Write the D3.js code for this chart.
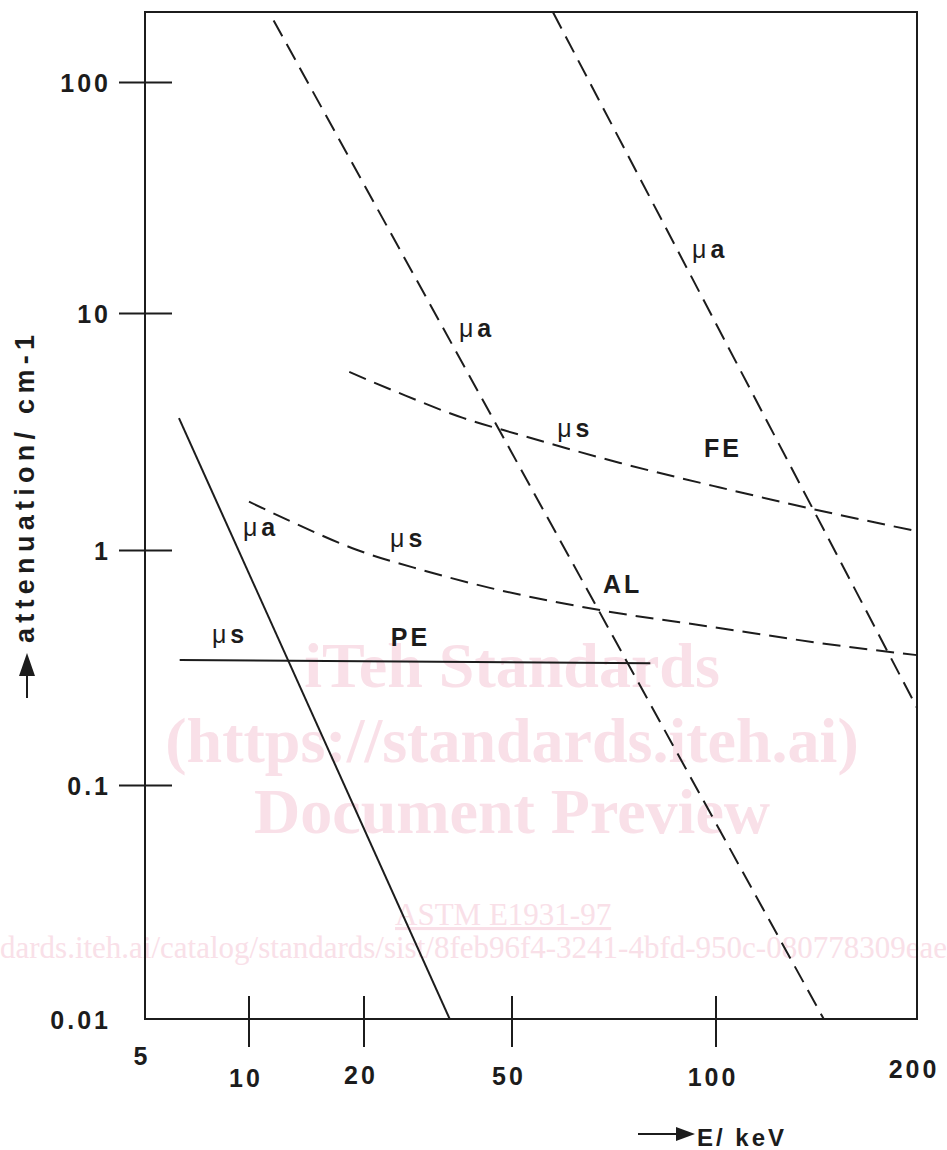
<!DOCTYPE html>
<html>
<head>
<meta charset="utf-8">
<script src="https://cdn.jsdelivr.net/npm/d3@7"></script>
<style>
  body { margin: 0; background: #fff; }
  svg { display: block; }
</style>
</head>
<body>
<div id="chart"></div>
<script>
// energy axis (keV) and attenuation axis (1/cm) - the drawing uses an uneven energy scale
var xTicks = [5, 10, 20, 50, 100, 200];
var yTicks = [0.01, 0.1, 1, 10, 100];

// curves: [E keV, attenuation 1/cm]
var peMuA = [[6.27, 3.6], [34.0, 0.01]];
var peMuS = [[6.3, 0.34], [80, 0.33]];
var alMuA = [[11.6, 184], [145, 0.01]];
var alMuS = [[10, 1.6], [13, 1.31], [19.2, 1.0], [28.8, 0.82], [43.6, 0.69],
             [67.4, 0.555], [101, 0.466], [143, 0.402], [200, 0.357]];
var feMuA = [[57.5, 199], [200, 0.213]];
var feMuS = [[18.3, 5.64], [24.5, 4.64], [36.9, 3.61], [51.4, 3.06],
             [72.2, 2.33], [101, 1.84], [138, 1.5], [200, 1.2]];

// curve labels: [text prefix, bold part, E, attenuation]
var labels = [
    ["\u03bc", "a", 9.6, 1.15],
    ["\u03bc", "s", 7.81, 0.402],
    ["", "PE", 23.6, 0.39],
    ["\u03bc", "s", 23.5, 1.03],
    ["", "AL", 68.1, 0.656],
    ["\u03bc", "a", 36.0, 7.92],
    ["", "FE", 96.0, 2.47],
    ["\u03bc", "s", 58.3, 3.0],
    ["\u03bc", "a", 92.2, 17.3]
];

var width = 947, height = 1150;

// piecewise log scales to follow the hand-drawn spacing
var x = d3.scaleLog()
    .domain(xTicks)
    .range([145, 249, 364, 512, 716, 917]);
var y = d3.scaleLog()
    .domain([0.01, 0.1, 1, 10, 100, 200])
    .range([1019, 785, 550, 313, 82, 12]);

var svg = d3.select("#chart")
    .append("svg")
        .attr("width", width)
        .attr("height", height);

var sans = "'Liberation Sans', Arial, Helvetica, sans-serif";
var serif = "'Liberation Serif', 'Times New Roman', serif";
var ink = "#1c1c1c";

// watermark sits under everything
var wm = svg.append("g")
    .attr("fill", "#f9e0e8")
    .attr("font-family", serif);

[["iTeh Standards", 687], ["(https://standards.iteh.ai)", 762], ["Document Preview", 833]]
    .forEach(function(d) {
        wm.append("text")
            .attr("x", 512)
            .attr("y", d[1])
            .attr("text-anchor", "middle")
            .attr("font-weight", "bold")
            .attr("font-size", 64)
            .text(d[0]);
    });

wm.append("text")
    .attr("x", 395)
    .attr("y", 925)
    .attr("font-size", 31)
    .attr("text-decoration", "underline")
    .text("ASTM E1931-97");

var url = wm.append("text")
    .attr("y", 958)
    .attr("font-size", 31)
    .text("https://standards.iteh.ai/catalog/standards/sist/8feb96f4-3241-4bfd-950c-080778309eae/astm-e1931-97");
url.attr("x", -url.node().getSubStringLength(0, 12));

// frame
var plot = svg.append("g");
plot.append("rect")
    .attr("x", x(5))
    .attr("y", y(200))
    .attr("width", x(200) - x(5))
    .attr("height", y(0.01) - y(200))
    .attr("fill", "none")
    .attr("stroke", ink)
    .attr("stroke-width", 2);

// y axis: ticks crossing the frame
var yAxis = plot.append("g")
    .attr("transform", "translate(" + x(5) + ",0)")
    .call(d3.axisLeft(y).tickValues(yTicks).tickSize(0).tickPadding(34)
        .tickFormat(d3.format("~g")));
yAxis.select(".domain").remove();
yAxis.selectAll(".tick")
    .filter(d => d !== 0.01)
    .append("line")
        .attr("x1", -26)
        .attr("x2", 27)
        .attr("stroke", ink)
        .attr("stroke-width", 2);
yAxis.selectAll(".tick text")
    .attr("fill", ink)
    .attr("font-family", sans)
    .attr("font-weight", "bold")
    .attr("font-size", 25)
    .attr("letter-spacing", 3)
    .attr("dy", "0.36em");

// x axis
var xLabelBaseline = {5: 1065, 10: 1087, 20: 1084, 50: 1085, 100: 1086, 200: 1078};
var xAxis = plot.append("g");
xAxis.selectAll("line")
    .data(xTicks.filter(d => d > 5 && d < 200))
    .join("line")
        .attr("x1", d => x(d))
        .attr("x2", d => x(d))
        .attr("y1", y(0.01) - 23)
        .attr("y2", y(0.01) + 28)
        .attr("stroke", ink)
        .attr("stroke-width", 2);
xAxis.selectAll("text")
    .data(xTicks)
    .join("text")
        .attr("x", d => x(d) - 3)
        .attr("y", d => xLabelBaseline[d])
        .attr("text-anchor", "middle")
        .attr("fill", ink)
        .attr("font-family", sans)
        .attr("font-weight", "bold")
        .attr("font-size", 25)
        .attr("letter-spacing", 3)
        .text(d => d);

// curves
var line = d3.line()
    .x(d => x(d[0]))
    .y(d => y(d[1]))
    .curve(d3.curveMonotoneX);

var curves = [
    [peMuA, null], [peMuS, null],
    [alMuA, "18,9"], [alMuS, "18,9"],
    [feMuA, "18,9"], [feMuS, "18,9"]
];

plot.append("g")
    .attr("fill", "none")
    .attr("stroke", ink)
    .attr("stroke-width", 2)
    .selectAll("path")
    .data(curves)
    .join("path")
        .attr("d", d => line(d[0]))
        .attr("stroke-dasharray", d => d[1]);

// curve labels
var lab = plot.append("g")
    .attr("fill", ink)
    .attr("font-family", sans)
    .attr("font-size", 25)
    .selectAll("text")
    .data(labels)
    .join("text")
        .attr("x", d => x(d[2]))
        .attr("y", d => y(d[3]));
lab.append("tspan")
    .attr("font-weight", "normal")
    .text(d => d[0]);
lab.append("tspan")
    .attr("font-weight", "bold")
    .attr("letter-spacing", 3)
    .attr("dx", d => d[0] ? 4 : 0)
    .text(d => d[1]);

// axis titles with arrows
var titles = svg.append("g").attr("fill", ink);

titles.append("line")
    .attr("x1", 27).attr("x2", 27)
    .attr("y1", 698).attr("y2", 672)
    .attr("stroke", ink)
    .attr("stroke-width", 2);
titles.append("path")
    .attr("d", "M19,676L27,653L35,676Z");
titles.append("text")
    .attr("transform", "translate(34,643) rotate(-90)")
    .attr("font-family", sans)
    .attr("font-weight", "bold")
    .attr("font-size", 27)
    .attr("textLength", 308)
    .attr("lengthAdjust", "spacing")
    .text("attenuation/ cm-1");

titles.append("line")
    .attr("x1", 638).attr("x2", 680)
    .attr("y1", 1134).attr("y2", 1134)
    .attr("stroke", ink)
    .attr("stroke-width", 2);
titles.append("path")
    .attr("d", "M676,1127L695,1134L676,1141Z");
titles.append("text")
    .attr("x", 697)
    .attr("y", 1146)
    .attr("font-family", sans)
    .attr("font-weight", "bold")
    .attr("font-size", 24)
    .attr("letter-spacing", 3)
    .text("E/ keV");
</script>
</body>
</html>
